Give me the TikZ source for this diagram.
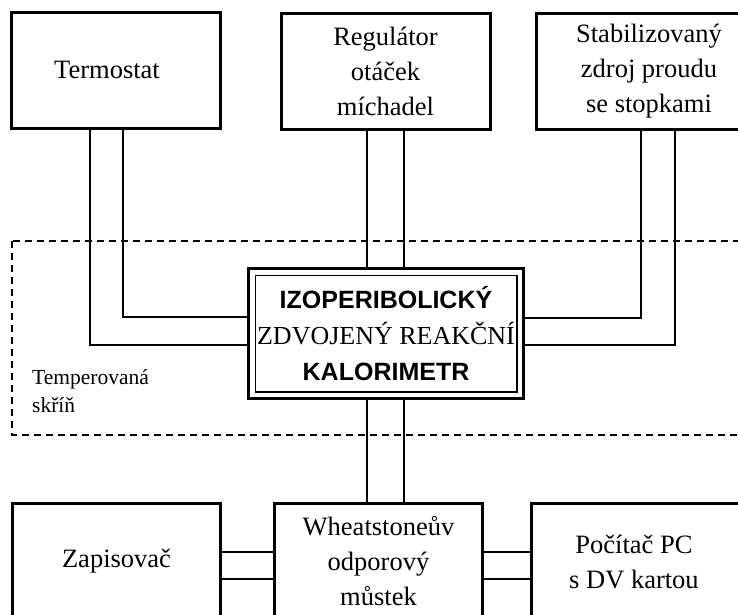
\documentclass[tikz,border=0pt]{standalone}
\usepackage{fontspec}
\setmainfont{Liberation Serif}
\newfontfamily\arialfont{Liberation Sans}
\usetikzlibrary{calc}
\begin{document}
\begin{tikzpicture}[x=1pt,y=-1pt,
  box/.style={draw, line width=3pt, fill=white, minimum width=209pt, minimum height=116pt,
    inner sep=0pt, align=center, font=\fontsize{26.5}{35}\selectfont},
  conn/.style={line width=1.5pt},
  cabinet/.style={line width=1.2pt, dash pattern=on 7pt off 5pt}]
\useasboundingbox (0,0) rectangle (738,614);
\clip (0,0) rectangle (738,614);
\fill[white] (0,0) rectangle (738,614);
% dashed cabinet
\draw[cabinet] (12,241) rectangle (770,435);
\node[anchor=west, align=left, font=\fontsize{21.5}{28}\selectfont, inner sep=0pt] (tl) at (32,391) {Temperovaná\\skříň};
% boxes
\node[box] (t) at (116,70) {Termostat\hspace*{18pt}};
\node[box] (r) at (385.5,71) {Regulátor\\otáček\\míchadel};
\node[box, minimum width=226pt] (s) at (649,71) {Stabilizovaný\\zdroj proudu\\se stopkami};
\node[box, minimum width=275pt, minimum height=130pt, font=\fontsize{25}{36}\selectfont] (k) at (386,333.5)
  {{\arialfont\bfseries IZOPERIBOLICKÝ}\\{\fontsize{26}{36}\selectfont ZDVOJENÝ REAKČNÍ}\\{\arialfont\bfseries KALORIMETR}};
\draw[line width=1.5pt] ($(k.north west)+(8.5,8.5)$) rectangle ($(k.south east)+(-8,-8)$);
\node[box, minimum width=208pt] (z) at (116.5,561.5) {Zapisovač};
\node[box, minimum width=208pt] (w) at (378.5,561.5) {Wheatstoneův\\odporový\\můstek};
\node[box, minimum width=226pt] (p) at (644,561.5) {Počítač PC\hspace*{20pt}\\s DV kartou\hspace*{20pt}};
% connectors
\draw[conn] (t.south -| 123,0) |- (k.west |- 0,317);
\draw[conn] (t.south -| 90,0) |- (k.west |- 0,345);
\draw[conn] (r.south -| 367,0) -- (k.north -| 367,0);
\draw[conn] (r.south -| 404,0) -- (k.north -| 404,0);
\draw[conn] (k.south -| 367,0) -- (w.north -| 367,0);
\draw[conn] (k.south -| 404,0) -- (w.north -| 404,0);
\draw[conn] (s.south -| 641,0) |- (k.east |- 0,318);
\draw[conn] (s.south -| 675,0) |- (k.east |- 0,345);
\draw[conn] (z.east |- 0,552) -- (w.west |- 0,552);
\draw[conn] (z.east |- 0,579) -- (w.west |- 0,579);
\draw[conn] (w.east |- 0,552) -- (p.west |- 0,552);
\draw[conn] (w.east |- 0,579) -- (p.west |- 0,579);
\end{tikzpicture}
\end{document}
